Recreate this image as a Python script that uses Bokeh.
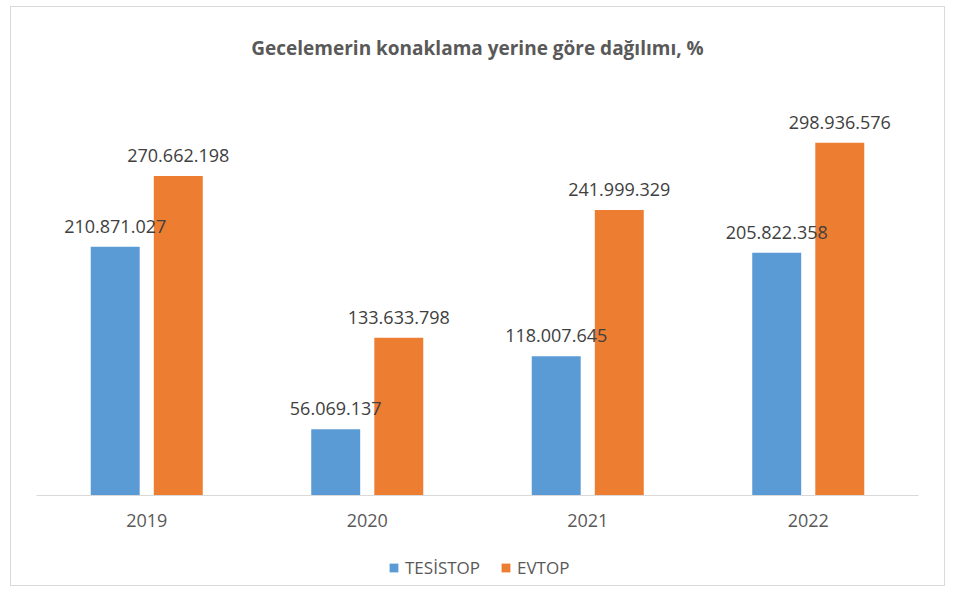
from bokeh.plotting import figure
from bokeh.layouts import column
from bokeh.models import FactorRange, Range1d, Legend, LegendItem, ColumnDataSource
from bokeh.transform import dodge
from bokeh.core.properties import value
from bokeh.embed import file_html
from bokeh.resources import INLINE

years = ["2019", "2020", "2021", "2022"]
tesistop = [210871027, 56069137, 118007645, 205822358]
evtop = [270662198, 133633798, 241999329, 298936576]
series_names = ["TESİSTOP", "EVTOP"]
series_colors = ["#5B9BD5", "#ED7D31"]
title_text = "Gecelemerin konaklama yerine göre dağılımı, %"

def fmt(v):
    return f"{v:,}".replace(",", ".")

src = ColumnDataSource(dict(
    x=years, t=tesistop, e=evtop,
    tl=[fmt(v) for v in tesistop], el=[fmt(v) for v in evtop],
))

FONT = "Open Sans"
GRAY = "#595959"

p = figure(frame_width=882, frame_height=413, output_backend="svg", toolbar_location=None,
           x_range=FactorRange(*years), y_range=Range1d(0, 350e6),
           min_border_left=25, min_border_right=26, min_border_top=75, min_border_bottom=45)
p.x_range.range_padding = 0
p.outline_line_color = None
p.grid.visible = False
p.yaxis.visible = False

p.title.text = title_text
p.title.align = "center"
p.title.text_font = FONT
p.title.text_font_size = "19px"
p.title.text_font_style = "bold"
p.title.text_color = GRAY
p.title.standoff = 44

xa = p.xaxis[0]
xa.axis_line_color = "#d9d9d9"
xa.axis_line_width = 1
xa.major_tick_line_color = None
xa.minor_tick_line_color = None
xa.major_tick_out = 0
xa.major_label_text_font = FONT
xa.major_label_text_font_size = "18px"
xa.major_label_text_color = GRAY
xa.major_label_standoff = 18

bw = 0.222
off = 0.143
p.vbar(x=dodge("x", -off, range=p.x_range), top="t", width=bw, source=src,
       fill_color=series_colors[0], line_color=None)
p.vbar(x=dodge("x", off, range=p.x_range), top="e", width=bw, source=src,
       fill_color=series_colors[1], line_color=None)

for col, lab, d in (("t", "tl", -off), ("e", "el", off)):
    p.text(x=dodge("x", d, range=p.x_range), y=col, text=lab, source=src,
           text_align="center", text_baseline="bottom", y_offset=-14,
           text_font=value(FONT), text_font_size="18px", text_color="#404040")

# legend strip below the chart (legend-only renderers, kept outside the visible range)
p2 = figure(frame_width=882, frame_height=45, output_backend="svg", toolbar_location=None,
            x_range=Range1d(0, 1), y_range=Range1d(0, 1),
            x_axis_location=None, y_axis_location=None,
            min_border_left=25, min_border_right=26, min_border_top=0, min_border_bottom=0)
p2.outline_line_color = None
p2.grid.visible = False
items = []
for name, c in zip(series_names, series_colors):
    r = p2.vbar(x=[-1], top=[0], width=0.1, fill_color=c, line_color=None)
    items.append(LegendItem(label=name, renderers=[r]))

legend = Legend(items=items, orientation="horizontal", location=(352, 6),
                glyph_width=11, glyph_height=11, spacing=20, label_standoff=6,
                label_text_font=FONT, label_text_font_size="17px", label_text_color=GRAY,
                border_line_color=None, background_fill_alpha=0, padding=0, margin=0)
p2.add_layout(legend, "center")

layout = column(p, p2, spacing=0,
                styles={"border": "1px solid #d9d9d9", "margin": "6px 0 0 10px"})

open("out.html", "w").write(file_html(layout, INLINE))
